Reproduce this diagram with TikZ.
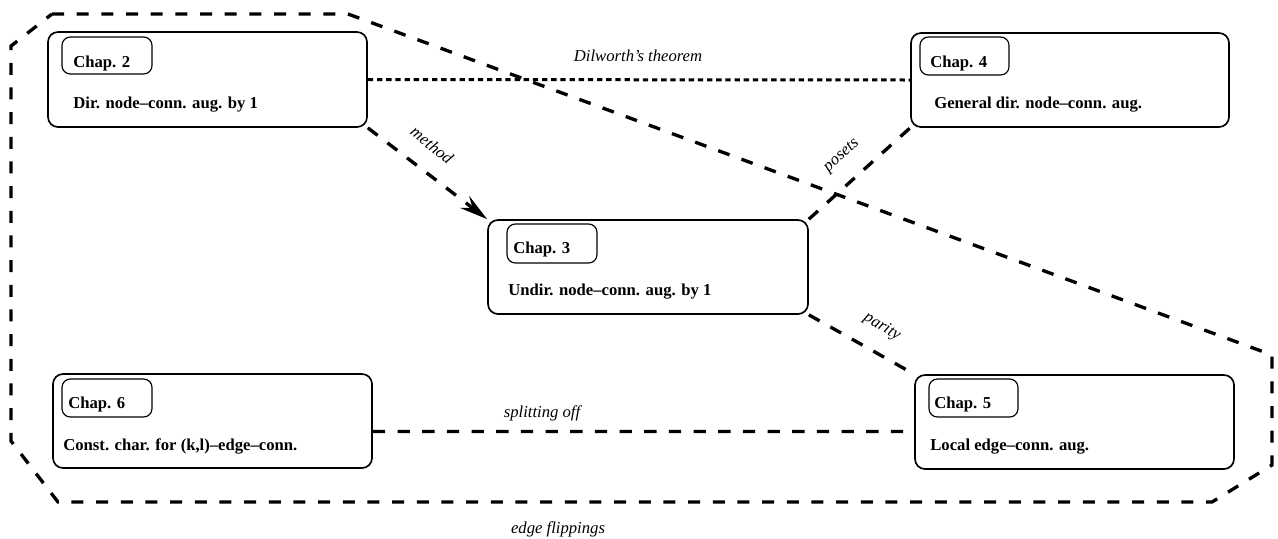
\documentclass[tikz,border=0pt]{standalone}
\usepackage{fontspec}
\setmainfont{Liberation Serif}
\usetikzlibrary{arrows.meta,fit,calc}

\tikzset{
  chapbox/.style={draw, line width=1pt, rounded corners=6pt, inner sep=0pt},
  tagbox/.style={draw, line width=0.7pt, rounded corners=5pt, inner sep=0pt},
  tagtext/.style={font=\bfseries\fontsize{10}{12}\selectfont, inner sep=0pt, anchor=base west},
  boxtext/.style={font=\bfseries\fontsize{10}{12}\selectfont, inner sep=0pt, anchor=base west},
  edgelabel/.style={font=\itshape\fontsize{10}{12}\selectfont, inner sep=0pt},
  link/.style={line width=2pt, dash pattern=on 7.4pt off 7.4pt},
  dotlink/.style={line width=1.8pt, dash pattern=on 3.2pt off 2.3pt},
  hull/.style={line width=2pt, dash pattern=on 7.2pt off 7.6pt},
}

\begin{document}
\begin{tikzpicture}[x=0.6pt, y=-0.6pt]
\useasboundingbox (0,0) rectangle (1278,538);

% chapter boxes
\coordinate (c2a) at (48,32);   \coordinate (c2b) at (367,127);
\coordinate (c4a) at (911,33);  \coordinate (c4b) at (1229,127);
\coordinate (c3a) at (488,220); \coordinate (c3b) at (808,314);
\coordinate (c6a) at (53,374);  \coordinate (c6b) at (372,468);
\coordinate (c5a) at (915,375); \coordinate (c5b) at (1234,469);

\node[chapbox, fit=(c2a)(c2b)] (c2) {};
\node[chapbox, fit=(c4a)(c4b)] (c4) {};
\node[chapbox, fit=(c3a)(c3b)] (c3) {};
\node[chapbox, fit=(c6a)(c6b)] (c6) {};
\node[chapbox, fit=(c5a)(c5b)] (c5) {};

% chapter tags
\coordinate (t2a) at (62,37);   \coordinate (t2b) at (152,74);
\coordinate (t4a) at (920,37);  \coordinate (t4b) at (1009,75);
\coordinate (t3a) at (507,224); \coordinate (t3b) at (597,263);
\coordinate (t6a) at (62,379);  \coordinate (t6b) at (152,417);
\coordinate (t5a) at (929,379); \coordinate (t5b) at (1018,417);

\node[tagbox, fit=(t2a)(t2b)] (t2) {};
\node[tagbox, fit=(t4a)(t4b)] (t4) {};
\node[tagbox, fit=(t3a)(t3b)] (t3) {};
\node[tagbox, fit=(t6a)(t6b)] (t6) {};
\node[tagbox, fit=(t5a)(t5b)] (t5) {};

\node[tagtext] (t2l) at (73,67)  {Chap. 2};
\node[tagtext] (t4l) at (930,67) {Chap. 4};
\node[tagtext] (t3l) at (513,253) {Chap. 3};
\node[tagtext] (t6l) at (68,408) {Chap. 6};
\node[tagtext] (t5l) at (934,408) {Chap. 5};

% chapter titles
\node[boxtext] (c2l) at (73,108)  {Dir. node–conn. aug. by 1};
\node[boxtext] (c4l) at (934,108) {General dir. node–conn. aug.};
\node[boxtext] (c3l) at (508,295) {Undir. node–conn. aug. by 1};
\node[boxtext] (c6l) at (63,450)  {Const. char. for (k,l)–edge–conn.};
\node[boxtext] (c5l) at (930,450) {Local edge–conn. aug.};

% connections between chapters
\draw[dotlink] (c2.east) -- (c4.west);
\draw[link, -{Stealth[length=17pt, width=9pt, inset=6pt]}] (c2.south east) -- (c3.north west);
\draw[link] (c3.north east) -- (c4.south west);
\draw[link] (c3.south east) -- (c5.north west);
\draw[link] ($(c6.south east)!0.39!(c6.north east)$) -- ($(c5.south west)!0.40!(c5.north west)$);

% labels of the connections
\node[edgelabel] (ldil) at (638,56) {Dilworth’s theorem};
\node[edgelabel, rotate=-39] (lmet) at (432,145) {method};
\node[edgelabel, rotate=42] (lpos) at (842,156) {posets};
\node[edgelabel, rotate=-31] (lpar) at (882,327) {parity};
\node[edgelabel] (lspl) at (542,413) {splitting off};

% region of chapters dealing with edge flippings
\draw[hull] (52,14) -- (348,14) -- (1272,355) -- (1272,465) -- (1212,502)
  -- (58,502) -- (11,441) -- (11,46) -- cycle;
\node[edgelabel, anchor=base] (lflip) at (558,533) {edge flippings};
\end{tikzpicture}
\end{document}
